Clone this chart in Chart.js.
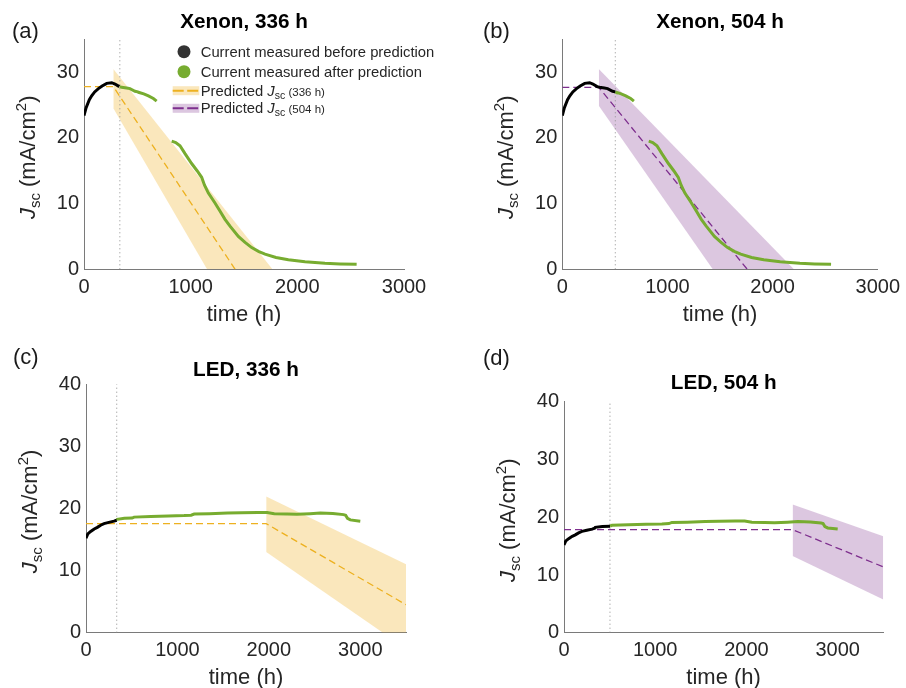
<!DOCTYPE html>
<html>
<head>
<meta charset="utf-8">
<script src="https://cdn.jsdelivr.net/npm/chart.js@4.4.0/dist/chart.umd.min.js"></script>
<style>
  html, body { margin: 0; padding: 0; background: #fff; width: 906px; height: 688px; overflow: hidden; }
  canvas { position: absolute; }
</style>
</head>
<body>
<canvas id="ca" width="453" height="330" style="left:0;top:0"></canvas>
<canvas id="cb" width="453" height="330" style="left:453px;top:0"></canvas>
<canvas id="cc" width="453" height="362" style="left:0;top:330px"></canvas>
<canvas id="cd" width="453" height="362" style="left:453px;top:330px"></canvas>
<script>
const FONT = '"Liberation Sans", Arial, sans-serif';
Chart.defaults.font.family = FONT;

// measured Jsc, xenon lamp ageing (null = gap in the record)
const xenonTime = [0, 20, 50, 72, 100, 135, 170, 213, 260, 291, 331, 336, 353, 400, 431, 478, 504, 510, 560, 604, 650, 681,
  750, 822, 860, 900, 947, 1009, 1060, 1103, 1130, 1166, 1228, 1273, 1322, 1367, 1447, 1510, 1572, 1640, 1697,
  1800, 1916, 2072, 2259, 2400, 2556];
const xenonJsc = [23.4, 24.6, 25.8, 26.4, 27.0, 27.5, 27.9, 28.3, 28.4, 28.2, 27.8, 27.8, 27.7, 27.6, 27.5, 27.1, 27.0, 26.95, 26.7, 26.4, 26.0, 25.6,
  null, 19.5, 19.3, 18.8, 17.6, 16.1, 15.0, 14.0, 12.8, 11.6, 10.1, 8.9, 7.6, 6.6, 5.0, 4.1, 3.3, 2.7, 2.3,
  1.8, 1.45, 1.15, 0.92, 0.82, 0.75];

// measured Jsc, LED ageing
const ledTime = [0, 20, 51, 90, 124, 160, 197, 250, 307, 336, 343, 420, 504, 526, 708, 900, 1073, 1150, 1183, 1350, 1548, 1700,
  1876, 1980, 2059, 2200, 2307, 2450, 2563, 2700, 2818, 2840, 2860, 2891, 3000];
const ledJsc = [15.2, 15.9, 16.3, 16.7, 16.95, 17.3, 17.55, 17.75, 17.95, 18.1, 18.25, 18.4, 18.45, 18.6, 18.7, 18.8, 18.85, 18.9, 19.1, 19.15, 19.25, 19.3,
  19.35, 19.35, 19.15, 19.1, 19.05, 19.15, 19.25, 19.2, 19.0, 18.9, 18.4, 18.15, 17.95];

const predictionHours = [336, 504];

// predicted Jsc lines and confidence bands
const predXe336T = [0, 275, 1417];      const predXe336J = [27.8, 27.8, 0];
const bandXe336UpT = [275, 1767];       const bandXe336UpJ = [30.5, 0];
const bandXe336LoT = [275, 1154, 1767]; const bandXe336LoJ = [24.5, 0, 0];

const predXe504T = [0, 347, 1759];      const predXe504J = [27.7, 27.7, 0];
const bandXe504UpT = [347, 2203];       const bandXe504UpJ = [30.5, 0];
const bandXe504LoT = [347, 1431, 2203]; const bandXe504LoJ = [24.9, 0, 0];

const predLed336T = [0, 1971, 3500];     const predLed336J = [17.55, 17.55, 4.5];
const bandLed336UpT = [1971, 3500];      const bandLed336UpJ = [21.9, 11.0];
const bandLed336LoT = [1971, 3248, 3500]; const bandLed336LoJ = [13.0, 0, 0];

const predLed504T = [0, 2506, 3500];     const predLed504J = [17.85, 17.85, 11.4];
const bandLed504UpT = [2506, 3500];      const bandLed504UpJ = [22.2, 16.7];
const bandLed504LoT = [2506, 3500];      const bandLed504LoJ = [13.3, 5.75];

const xTicks = [0, 1000, 2000, 3000];
const yTicksXenon = [0, 10, 20, 30];
const yTicksLed = [0, 10, 20, 30, 40];

const panelTitles = ['Xenon, 336 h', 'Xenon, 504 h', 'LED, 336 h', 'LED, 504 h'];
const panelLabels = ['(a)', '(b)', '(c)', '(d)'];
const legendNames = ['Current measured before prediction', 'Current measured after prediction', 'Predicted', 'Predicted'];
const legendTags = ['(336 h)', '(504 h)'];

const YELLOW = '#EDB120', PURPLE = '#7E2F8E', GREEN = '#77AC30';
const YELLOW_BAND = 'rgba(237,177,32,0.3)', PURPLE_BAND = 'rgba(126,47,142,0.27)';

function pts(ts, js) {
  return ts.map((t, i) => ({x: t, y: js[i]}));
}

// draws a run of text pieces with their own font and baseline shift
function pieces(ctx, list, x, y) {
  for (const p of list) {
    ctx.font = p[1] + ' ' + FONT;
    ctx.fillText(p[0], x, y + p[2]);
    x += ctx.measureText(p[0]).width;
  }
  return x;
}

function drawLegend(ctx) {
  const ys = [51.7, 71.7, 90.7, 108.3];
  ctx.textAlign = 'left';
  ctx.textBaseline = 'alphabetic';
  [['#333333', 0], [GREEN, 1]].forEach(([c, i]) => {
    ctx.fillStyle = c;
    ctx.beginPath();
    ctx.arc(184, ys[i], 6.5, 0, Math.PI * 2);
    ctx.fill();
    ctx.fillStyle = '#262626';
    pieces(ctx, [[legendNames[i], '14.8px', 0]], 200.7, ys[i] + 5);
  });
  [[YELLOW, YELLOW_BAND, 2], [PURPLE, PURPLE_BAND, 3]].forEach(([c, band, i]) => {
    ctx.fillStyle = band;
    ctx.fillRect(172.7, ys[i] - 4.5, 26.6, 9);
    ctx.strokeStyle = c;
    ctx.lineWidth = 2;
    ctx.setLineDash([11, 3.5]);
    ctx.beginPath();
    ctx.moveTo(172.7, ys[i]);
    ctx.lineTo(199.3, ys[i]);
    ctx.stroke();
    ctx.setLineDash([]);
    ctx.fillStyle = '#262626';
    pieces(ctx, [[legendNames[i] + ' ', '14.8px', 0], ['J', 'italic 14.8px', 0], ['sc', '10.5px', 3], [' ' + legendTags[i - 2], '11.5px', 0]], 200.7, ys[i] + 5);
  });
}

const decor = {
  id: 'decor',
  afterDraw(chart, args, o) {
    const ctx = chart.ctx, a = chart.chartArea;
    ctx.save();
    ctx.fillStyle = '#1a1a1a';
    ctx.font = '22px ' + FONT;
    ctx.textAlign = 'left';
    ctx.textBaseline = 'middle';
    ctx.fillText(o.label, o.labelX, o.labelY);

    // y axis title: J_sc (mA/cm^2)
    ctx.save();
    ctx.translate(a.left - 49, (a.top + a.bottom) / 2 + 3);
    ctx.rotate(-Math.PI / 2);
    ctx.textBaseline = 'alphabetic';
    ctx.fillStyle = '#262626';
    const parts = [['J', 'italic 22px', 0], ['sc', '15px', 5], [' (mA/cm', '22px', 0], ['2', '15px', -9], [')', '22px', 0]];
    let w = 0;
    for (const p of parts) { ctx.font = p[1] + ' ' + FONT; w += ctx.measureText(p[0]).width; }
    pieces(ctx, parts, -w / 2, 0);
    ctx.restore();

    if (o.legend) drawLegend(ctx);
    ctx.restore();
  }
};

const panels = [
  {id: 'ca', time: xenonTime, jsc: xenonJsc, cut: predictionHours[0], color: YELLOW, band: YELLOW_BAND,
   line: [predXe336T, predXe336J], up: [bandXe336UpT, bandXe336UpJ], lo: [bandXe336LoT, bandXe336LoJ],
   xMax: 3000, yMax: 35, yTicks: yTicksXenon, n: 0,
   yW: 84, padR: 49, tTop: 10, tBot: 4.5, xH: 60.7, xtB: 1.8, lab: [12, 32], legend: true},
  {id: 'cb', time: xenonTime, jsc: xenonJsc, cut: predictionHours[1], color: PURPLE, band: PURPLE_BAND,
   line: [predXe504T, predXe504J], up: [bandXe504UpT, bandXe504UpJ], lo: [bandXe504LoT, bandXe504LoJ],
   xMax: 3000, yMax: 35, yTicks: yTicksXenon, n: 1,
   yW: 109.3, padR: 24, tTop: 10, tBot: 4.5, xH: 60.7, xtB: 1.8, lab: [30, 32], legend: false},
  {id: 'cc', time: ledTime, jsc: ledJsc, cut: predictionHours[0], color: YELLOW, band: YELLOW_BAND,
   line: [predLed336T, predLed336J], up: [bandLed336UpT, bandLed336UpJ], lo: [bandLed336LoT, bandLed336LoJ],
   xMax: 3500, yMax: 40, yTicks: yTicksLed, n: 2,
   yW: 86, padR: 47, tTop: 28, tBot: 1.3, xH: 59.3, xtB: 0.8, lab: [13, 28], legend: false},
  {id: 'cd', time: ledTime, jsc: ledJsc, cut: predictionHours[1], color: PURPLE, band: PURPLE_BAND,
   line: [predLed504T, predLed504J], up: [bandLed504UpT, bandLed504UpJ], lo: [bandLed504LoT, bandLed504LoJ],
   xMax: 3500, yMax: 40, yTicks: yTicksLed, n: 3,
   yW: 111, padR: 22.7, tTop: 41.3, tBot: 5.7, xH: 59.3, xtB: 0.8, lab: [30, 29], legend: false}
];

for (const p of panels) {
  const all = pts(p.time, p.jsc);
  const before = all.filter(d => d.x <= p.cut);
  const after = all.filter(d => d.x >= p.cut);

  new Chart(document.getElementById(p.id), {
    type: 'line',
    data: {
      datasets: [
        {data: before, borderColor: '#000', borderWidth: 3, order: 1},
        {data: after, borderColor: GREEN, borderWidth: 3, order: 1},
        {data: pts(p.line[0], p.line[1]), borderColor: p.color, borderWidth: 1.3, borderDash: [7, 4], order: 2},
        {data: [{x: p.cut, y: 0}, {x: p.cut, y: p.yMax}], borderColor: '#8c8c8c', borderWidth: 1, borderDash: [1, 3], order: 3},
        {data: pts(p.up[0], p.up[1]), borderWidth: 0, borderColor: 'rgba(0,0,0,0)', backgroundColor: p.band, fill: '+1', order: 4},
        {data: pts(p.lo[0], p.lo[1]), borderWidth: 0, borderColor: 'rgba(0,0,0,0)', fill: false, order: 4}
      ]
    },
    options: {
      responsive: false,
      animation: false,
      events: [],
      elements: {point: {radius: 0}, line: {tension: 0}},
      spanGaps: false,
      layout: {padding: {left: 0, right: p.padR, top: 0, bottom: 0}},
      plugins: {
        legend: {display: false},
        tooltip: {enabled: false},
        title: {
          display: true, text: panelTitles[p.n], fullSize: false, color: '#000',
          font: {size: 20.7, weight: 'bold'}, padding: {top: p.tTop, bottom: p.tBot}
        },
        decor: {label: panelLabels[p.n], labelX: p.lab[0], labelY: p.lab[1], legend: p.legend}
      },
      scales: {
        x: {
          type: 'linear', min: 0, max: p.xMax,
          afterBuildTicks: s => { s.ticks = xTicks.map(v => ({value: v})); },
          afterFit: s => { s.height = p.xH; },
          grid: {display: false, drawTicks: false},
          border: {display: true, color: '#7a7a7a', width: 1},
          ticks: {padding: 6, color: '#262626', font: {size: 20}, maxRotation: 0, autoSkip: false, callback: v => String(v)},
          title: {display: true, text: 'time (h)', color: '#262626', font: {size: 22}, padding: {top: 0, bottom: p.xtB}}
        },
        y: {
          type: 'linear', min: 0, max: p.yMax,
          afterBuildTicks: s => { s.ticks = p.yTicks.map(v => ({value: v})); },
          afterFit: s => { s.width = p.yW; },
          grid: {display: false, drawTicks: false},
          border: {display: true, color: '#7a7a7a', width: 1},
          ticks: {padding: 5, color: '#262626', font: {size: 20}, autoSkip: false, callback: v => String(v)}
        }
      }
    },
    plugins: [decor]
  });
}
</script>
</body>
</html>
